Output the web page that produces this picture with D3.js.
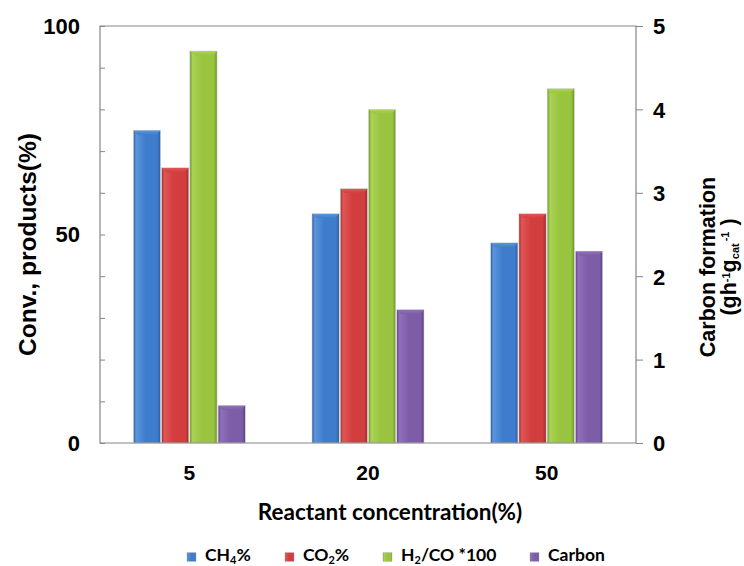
<!DOCTYPE html>
<html>
<head>
<meta charset="utf-8">
<script src="https://cdn.jsdelivr.net/npm/d3@7"></script>
<style>
  html, body { margin: 0; padding: 0; background: #fff; }
  svg { display: block; }
</style>
</head>
<body>
<svg id="chart" width="744" height="566"></svg>
<script>
// Reactant concentration categories
const categories = ["5", "20", "50"];
// Left-axis series (%)
const ch4Values = [75, 55, 48];
const co2Values = [66, 61, 55];
const h2coValues = [94, 80, 85];
// Right-axis series (g h^-1 g_cat^-1)
const carbonValues = [0.45, 1.6, 2.3];
// Axis tick labels
const leftTickLabels = [0, 50, 100];
const rightTickLabels = [0, 1, 2, 3, 4, 5];

const seriesKeys = ["ch4", "co2", "h2co", "carbon"];
const seriesStyle = {
  ch4:    { base: "#3f7ccb", light: "#5a95dc", dark: "#2c5c9c" },
  co2:    { base: "#d23d3d", light: "#e05656", dark: "#9e2a2a" },
  h2co:   { base: "#98c43f", light: "#abd355", dark: "#6e912e" },
  carbon: { base: "#7d5ca8", light: "#916fbd", dark: "#5a417f" }
};

const rows = categories.map((c, i) => ({
  cat: c,
  ch4: ch4Values[i],
  co2: co2Values[i],
  h2co: h2coValues[i],
  carbon: carbonValues[i]
}));

const ARIAL = "'Liberation Sans', Arial, sans-serif";
const CAL = "Lato, 'Open Sans', sans-serif";

const svg = d3.select("#chart");
const plot = { left: 100, right: 636, top: 26, bottom: 443 };

const x0 = d3.scaleBand()
  .domain(categories)
  .range([plot.left, plot.right])
  .paddingInner(0.3676)
  .paddingOuter(0.1838);

const x1 = d3.scaleBand()
  .domain(seriesKeys)
  .range([0, x0.bandwidth()])
  .padding(0);

const yLeft = d3.scaleLinear().domain([0, 100]).range([plot.bottom, plot.top]);
const yRight = d3.scaleLinear().domain([0, 5]).range([plot.bottom, plot.top]);
const yFor = k => (k === "carbon" ? yRight : yLeft);

// Gradients for the bevelled bars
const defs = svg.append("defs");
seriesKeys.forEach(k => {
  const s = seriesStyle[k];
  const g = defs.append("linearGradient")
    .attr("id", "grad-" + k)
    .attr("x1", "0%").attr("x2", "100%").attr("y1", "0%").attr("y2", "0%");
  g.append("stop").attr("offset", "0%").attr("stop-color", s.dark);
  g.append("stop").attr("offset", "10%").attr("stop-color", s.light);
  g.append("stop").attr("offset", "45%").attr("stop-color", s.base);
  g.append("stop").attr("offset", "88%").attr("stop-color", s.base);
  g.append("stop").attr("offset", "100%").attr("stop-color", s.dark);
  const t = defs.append("linearGradient")
    .attr("id", "cap-" + k)
    .attr("x1", "0%").attr("x2", "0%").attr("y1", "0%").attr("y2", "100%");
  t.append("stop").attr("offset", "0%").attr("stop-color", s.light);
  t.append("stop").attr("offset", "100%").attr("stop-color", s.base);
});

const axisColor = "#868686";

// Bars
const groups = svg.append("g").attr("class", "bars")
  .selectAll("g")
  .data(rows)
  .join("g")
  .attr("transform", d => `translate(${x0(d.cat)},0)`);

const barData = d => seriesKeys.map(k => ({ key: k, value: d[k] }));

groups.selectAll("rect.bar")
  .data(barData)
  .join("rect")
  .attr("class", "bar")
  .attr("x", d => x1(d.key) + 0.5)
  .attr("width", x1.bandwidth() - 1)
  .attr("y", d => yFor(d.key)(d.value))
  .attr("height", d => plot.bottom - yFor(d.key)(d.value))
  .attr("fill", d => `url(#grad-${d.key})`)
  .attr("stroke", "#d9d9d9")
  .attr("stroke-width", 0.6);

// Top bevel of each bar
groups.selectAll("path.cap")
  .data(barData)
  .join("path")
  .attr("class", "cap")
  .attr("d", d => {
    const xa = x1(d.key) + 0.8, xb = x1(d.key) + x1.bandwidth() - 0.8;
    const yt = yFor(d.key)(d.value) + 0.4;
    return `M${xa},${yt}L${xb},${yt}L${xb - 4},${yt + 4}L${xa + 4},${yt + 4}Z`;
  })
  .attr("fill", d => `url(#cap-${d.key})`);

// Plot frame: left axis, top edge, bottom axis, right axis
svg.append("path")
  .attr("d", `M${plot.left},${plot.top}H${plot.right}V${plot.bottom}H${plot.left}Z`)
  .attr("fill", "none")
  .attr("stroke", axisColor)
  .attr("stroke-width", 1.2);

// Left axis: inward ticks every 10, labels at 0/50/100
const leftAxis = d3.axisLeft(yLeft)
  .tickValues(d3.range(0, 101, 10))
  .tickSizeInner(-5)
  .tickSizeOuter(0)
  .tickFormat("");
const gl = svg.append("g").attr("transform", `translate(${plot.left},0)`).call(leftAxis);
gl.select(".domain").remove();
gl.selectAll(".tick line").attr("stroke", axisColor).attr("stroke-width", 1);

svg.append("g").selectAll("text")
  .data(leftTickLabels)
  .join("text")
  .attr("x", 80)
  .attr("y", d => yLeft(d))
  .attr("dy", "0.36em")
  .attr("text-anchor", "end")
  .style("font-family", ARIAL)
  .style("font-weight", "bold")
  .style("font-size", "22px")
  .text(d => d);

// Right axis: outward ticks with labels
const rightAxis = d3.axisRight(yRight)
  .tickValues(rightTickLabels)
  .tickSizeInner(7)
  .tickSizeOuter(0)
  .tickPadding(10)
  .tickFormat(d3.format("d"));
const gr = svg.append("g").attr("transform", `translate(${plot.right},0)`).call(rightAxis);
gr.select(".domain").remove();
gr.selectAll(".tick line").attr("stroke", axisColor).attr("stroke-width", 1);
gr.selectAll(".tick text")
  .attr("fill", "#000")
  .attr("dy", "0.36em")
  .style("font-family", ARIAL)
  .style("font-weight", "bold")
  .style("font-size", "22px");

// Category axis labels
const bottomAxis = d3.axisBottom(x0).tickSize(0).tickPadding(22);
const gb = svg.append("g").attr("transform", `translate(0,${plot.bottom})`).call(bottomAxis);
gb.select(".domain").remove();
gb.selectAll(".tick text")
  .attr("fill", "#000")
  .style("font-family", ARIAL)
  .style("font-weight", "bold")
  .style("font-size", "21px");

// Axis titles
svg.append("text")
  .attr("transform", `translate(36,${(plot.top + plot.bottom) / 2 + 10}) rotate(-90)`)
  .attr("text-anchor", "middle")
  .style("font-family", ARIAL)
  .style("font-weight", "bold")
  .style("font-size", "24.5px")
  .text("Conv., products(%)");

const rt = svg.append("g")
  .attr("transform", `translate(0,267)`)
  .style("font-family", ARIAL)
  .style("font-weight", "bold")
  .style("font-size", "21.5px");
rt.append("text")
  .attr("transform", "translate(715,0) rotate(-90)")
  .attr("text-anchor", "middle")
  .text("Carbon formation");
const unit = rt.append("text")
  .attr("transform", "translate(736,0) rotate(-90)")
  .attr("text-anchor", "middle");
unit.append("tspan").text("(gh");
unit.append("tspan").style("font-size", "11px").attr("dy", -6.5).text("-1");
unit.append("tspan").attr("dy", 6.5).text("g");
unit.append("tspan").style("font-size", "11px").attr("dy", 3).text("cat");
unit.append("tspan").style("font-size", "11px").attr("dy", -10).attr("dx", 2).text("-1");
unit.append("tspan").attr("dy", 7).text(" )");

svg.append("text")
  .attr("x", 390)
  .attr("y", 520)
  .attr("text-anchor", "middle")
  .style("font-family", CAL)
  .style("font-weight", "bold")
  .style("font-size", "22.5px")
  .text("Reactant concentration(%)");

// Legend
const legendItems = [
  { key: "ch4", parts: [["CH", 0], ["4", 1], ["%", 0]], x: 187 },
  { key: "co2", parts: [["CO", 0], ["2", 1], ["%", 0]], x: 285 },
  { key: "h2co", parts: [["H", 0], ["2", 1], ["/CO *100", 0]], x: 383 },
  { key: "carbon", parts: [["Carbon", 0]], x: 530 }
];
const lg = svg.append("g").attr("class", "legend");
const li = lg.selectAll("g").data(legendItems).join("g")
  .attr("transform", d => `translate(${d.x},561)`);
li.append("rect")
  .attr("x", 0).attr("y", -8.5)
  .attr("width", 9).attr("height", 9)
  .attr("fill", d => `url(#grad-${d.key})`)
  .attr("stroke", "#bbb").attr("stroke-width", 0.5);
const lt = li.append("text")
  .attr("x", 18)
  .style("font-family", CAL)
  .style("font-weight", "bold")
  .style("font-size", "17.5px");
lt.each(function (d) {
  const t = d3.select(this);
  d.parts.forEach(([s, sub], i) => {
    const prevSub = i > 0 && d.parts[i - 1][1];
    const sp = t.append("tspan").text(s);
    if (sub) sp.style("font-size", "11px").attr("dy", 2.5);
    else if (prevSub) sp.attr("dy", -2.5);
  });
});
</script>
</body>
</html>
